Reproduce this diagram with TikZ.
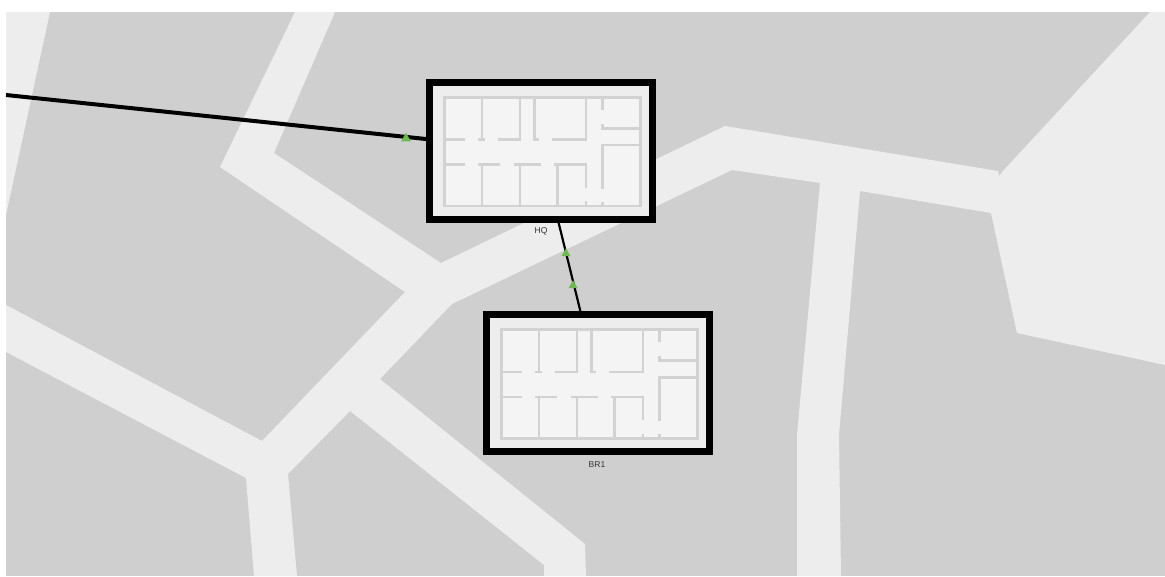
\documentclass[tikz,border=0pt]{standalone}
\usepackage{fontspec}
\setmainfont{Liberation Sans}
\usetikzlibrary{shapes.geometric}
\definecolor{landc}{HTML}{CFCFCF}
\definecolor{roadc}{HTML}{EDEDED}
\definecolor{floorc}{HTML}{F4F4F4}
\definecolor{wallc}{HTML}{D2D2D2}
\definecolor{markc}{HTML}{6DB94F}
\definecolor{labelc}{HTML}{333333}
\tikzset{
  road/.style={fill=roadc,draw=none},
  site/.style={rectangle,draw=black,fill=roadc,line width=7pt,inner sep=0pt,minimum width=223pt,minimum height=137pt},
  walls/.style={draw=wallc,line width=2.6pt,line cap=butt},
  floorarea/.style={fill=floorc},
  link/.style={draw=black,line width=2.2pt},
  biglink/.style={draw=black,line width=4pt},
  marker/.style={regular polygon,regular polygon sides=3,fill=markc,inner sep=0pt,outer sep=0pt},
  sitelabel/.style={font=\fontsize{8.5}{10}\selectfont,text=labelc,inner sep=0pt}
}
\newcommand{\floorwalls}[2]{%
\begin{scope}[shift={(#1,#2)},x=0.3333pt,y=-0.3333pt]
\fill[floorarea] (73,82) rectangle (662,408);
\draw[walls] (73,82) rectangle (662,408);
\draw[walls] (73,209)--(135,209) (174,209)--(195,209) (234,209)--(300,209)--(300,82)
 (340,209)--(356,209) (395,209)--(498,209)--(498,82) (186,82)--(186,209) (343,82)--(343,209)
 (548,82)--(548,120) (548,162)--(548,175)--(662,175)
 (662,225)--(548,225)--(548,356)
 (73,284)--(135,284) (174,284)--(241,284) (282,284)--(362,284) (403,284)--(498,284)--(498,353)
 (186,284)--(186,408) (300,284)--(300,408) (412,284)--(412,408)
 (498,394)--(498,408) (548,396)--(548,408);
\end{scope}}
\begin{document}
\begin{tikzpicture}[x=1pt,y=-1pt]
\useasboundingbox (0,0) rectangle (1165,576);
\fill[white] (0,0) rectangle (1165,576);
\fill[landc] (6,12) rectangle (1165,576);
% top-left road
\fill[road] (6,12)--(50,12)--(6,215)--cycle;
% main road network
\fill[road] (295,12)--(335,12)--(274,153)--(441,263)--(725,126)--(998,171)--(999,176)--(1003,171)--(1150,12)--(1165,12)
 --(1165,365)--(1017,333)--(991,213)--(860,191)--(839,435)--(841,576)--(797,576)--(797,435)
 --(820,183)--(732,170)--(452,304)--(380,379)--(585,544)--(586,576)--(544,576)--(544,565)
 --(350,411)--(288,474)--(297,576)--(254,576)--(246,478)--(6,352)--(6,305)--(262,441)
 --(405,292)--(220,167)--cycle;
% sites
\node[site] (HQ) at (541,151) {};
\node[site] (BR1) at (598,383) {};
\floorwalls{420}{70}
\floorwalls{477}{302.3}
\node[sitelabel] (hqlabel) at (541,231) {HQ};
\node[sitelabel] (brlabel) at (597,465) {BR1};
% connectors
\coordinate (far) at (6,95);
\draw[biglink] (far) -- (HQ);
\draw[link] (HQ) -- (BR1);
\node[marker,minimum size=11.5pt] (m1) at (406,138.5) {};
\node[marker,minimum size=10.4pt] (m2) at (566,253.5) {};
\node[marker,minimum size=10.4pt] (m3) at (573,285.5) {};
\end{tikzpicture}
\end{document}
